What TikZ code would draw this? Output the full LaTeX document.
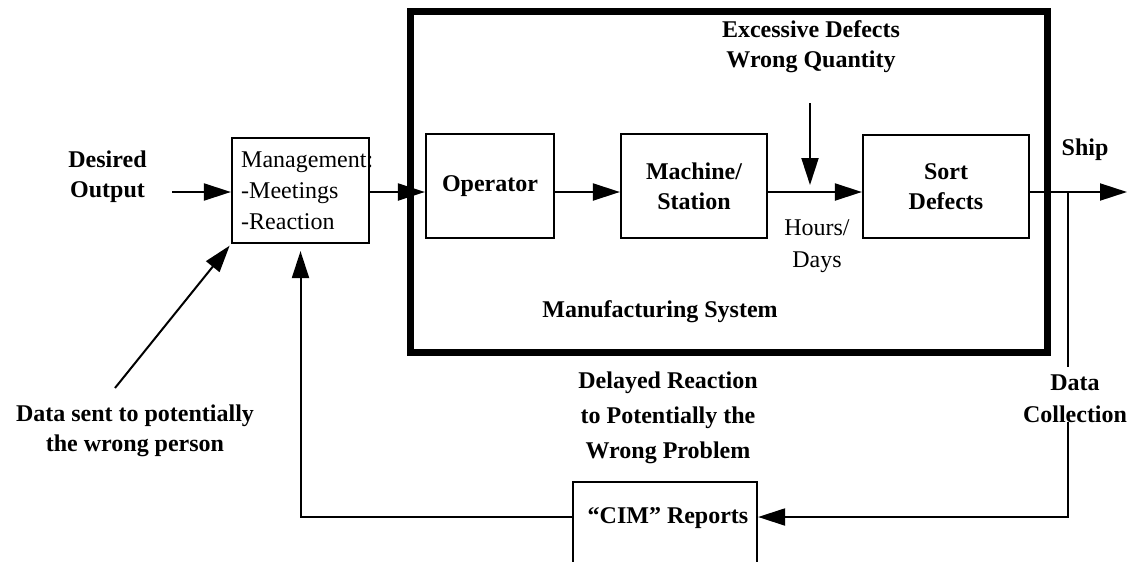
\documentclass[tikz,border=0pt]{standalone}
\usepackage{fontspec}
\setmainfont{Liberation Serif}
\usetikzlibrary{arrows.meta}
\begin{document}
\begin{tikzpicture}[x=1pt,y=-1pt,
  box/.style={draw, line width=2.2pt, inner sep=0pt, align=center,
    font=\bfseries\fontsize{24}{30}\selectfont},
  lbl/.style={inner sep=0pt, align=center, font=\bfseries\fontsize{24}{30}\selectfont},
  plain/.style={inner sep=0pt, align=left, font=\fontsize{24}{31}\selectfont},
  wire/.style={line width=2pt},
  arr/.style={line width=2pt, -{Triangle[length=27pt,width=17pt]}}]
\useasboundingbox (0,0) rectangle (1138,562);
\clip (0,0) rectangle (1138,562);

% main flow axis
\coordinate (axis) at (0,192);

% management block
\node[plain, anchor=west] (mgmttext) at (241,191) {Management:\\-Meetings\\-Reaction};
\node[box, minimum width=137pt, minimum height=105pt] (mgmt) at (300.5,190.5) {};

% manufacturing system
\node[draw, line width=7pt, inner sep=0pt, minimum width=636.5pt, minimum height=341pt] (frame) at (728.75,181.5) {};
\node[box, minimum width=128pt, minimum height=104pt] (op) at (490,186) {Operator};
\node[box, minimum width=146pt, minimum height=104pt] (mach) at (694,186) {Machine/\\Station};
\node[box, minimum width=166pt, minimum height=103pt] (sort) at (946,186.5) {Sort\\Defects};
\node[lbl] (mfg) at (660,312) {Manufacturing System};
\node[plain, align=center, font=\fontsize{24}{32}\selectfont] (hours) at (817,246) {Hours/\\Days};

% reports block
\node[box, minimum width=184pt, minimum height=160pt] (cim) at (665,562) {};
\node[lbl] (cimtext) at (668,518) {“CIM” Reports};

% labels
\node[lbl] (desired) at (107.5,177) {Desired\\Output};
\node[lbl] (ship) at (1085,150) {Ship};
\node[lbl] (exc) at (811,47) {Excessive Defects\\Wrong Quantity};
\node[lbl] (sent) at (135,431) {Data sent to potentially\\the wrong person};
\node[lbl, font=\bfseries\fontsize{24}{35}\selectfont] (delay) at (668,418) {Delayed Reaction\\to Potentially the\\Wrong Problem};
\node[lbl, font=\bfseries\fontsize{24}{32}\selectfont] (dctext) at (1075,399) {Data\\Collection};

% forward flow
\coordinate (dstart) at (172,192);
\draw[arr] (dstart) -- (mgmt.west |- axis);
\draw[arr] (mgmt.east |- axis) -- (op.west |- axis);
\draw[arr] (op.east |- axis) -- (mach.west |- axis);
\draw[arr] (mach.east |- axis) -- (sort.west |- axis);
\coordinate (shipend) at (1127,192);
\draw[arr] (sort.east |- axis) -- (shipend);

% disturbance
\coordinate (excstart) at (810,103);
\coordinate (exctip) at (810,185);
\draw[arr] (excstart) -- (exctip);

% misdirected data
\coordinate (sentstart) at (115,388);
\draw[arr, shorten >=2pt] (sentstart) -- (mgmt.south west);

% data collection feedback loop
\coordinate (dc) at (1068,192);
\coordinate (dcgap1) at (1068,367);
\coordinate (dcgap2) at (1068,422);
\coordinate (dccorner) at (1068,517);
\draw[wire] (dc) -- (dcgap1);
\draw[arr] (dcgap2) -- (dccorner) -- (cim.east |- dccorner);
\coordinate (fbcorner) at (mgmt.south |- dccorner);
\draw[arr, shorten >=7pt] (cim.west |- dccorner) -- (fbcorner) -- (mgmt.south);
\end{tikzpicture}
\end{document}
